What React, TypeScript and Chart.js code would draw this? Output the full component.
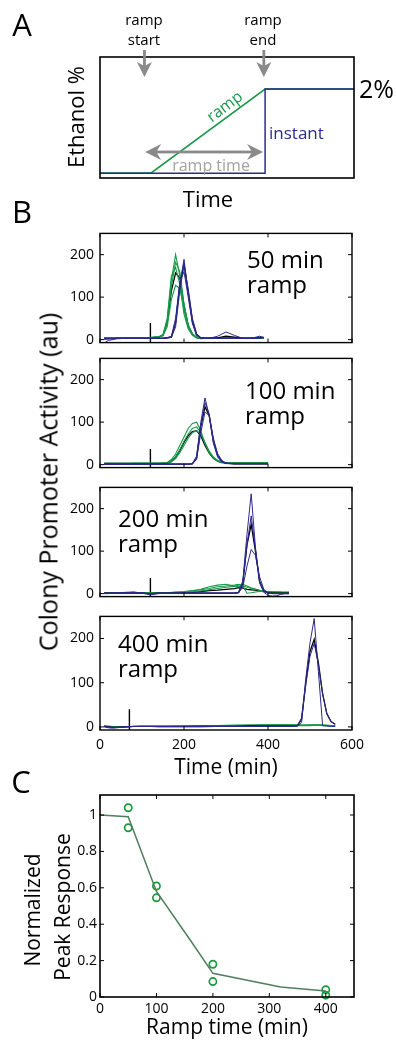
import React, { useEffect, useRef } from "react";
import { Chart, registerables } from "chart.js";

Chart.register(...registerables);

const FONT = "'Open Sans', 'Noto Sans', 'DejaVu Sans', sans-serif";
const BLUE = "#2d2a8e";
const GREEN = "#17994a";
const BLACK = "#000000";
const ARROW_GRAY = "#8a8a8a";

// ---------- Panel A (schematic) ----------
const schemTime = [0, 20, 65, 100];
const rampLevel = [0.04, 0.04, 0.735, 0.735];
const instantTime = [0, 65, 65, 100];
const instantLevel = [0.04, 0.04, 0.735, 0.735];

// ---------- Panel B ----------
const xTicksB = [0, 200, 400, 600];
const yTicksB = [0, 100, 200];
const markerTimes = [120, 120, 120, 70];
const markerTops = [39, 37, 37, 40];

// 50 min ramp
const t50 = [10, 20, 40, 60, 80, 100, 120, 140, 150, 160, 170, 180, 190, 200, 210, 220, 230, 240, 250, 260, 280, 300, 320, 340, 360, 380, 390];
const g50a = [4, 4, 4, 4, 4, 4, 5, 7, 12, 45, 140, 200, 150, 70, 30, 12, 5, 4, 4, 4, 4, 4, 4, 4, 4, 4, 4];
const g50b = [4, 4, 4, 4, 4, 4, 5, 6, 10, 40, 125, 182, 160, 85, 35, 14, 5, 3, 3, 4, 4, 4, 4, 4, 4, 4, 4];
const g50c = [3, 3, 3, 4, 4, 4, 4, 6, 9, 30, 95, 128, 120, 75, 32, 12, 4, 2, 3, 4, 4, 4, 4, 4, 4, 4, 4];
const g50d = [4, 4, 4, 4, 4, 4, 5, 7, 11, 50, 150, 170, 130, 60, 25, 10, 4, 3, 3, 4, 4, 4, 4, 4, 4, 4, 4];
const k50a = [4, 4, 4, 4, 4, 4, 4, 6, 10, 40, 115, 157, 145, 80, 34, 13, 5, 3, 3, 4, 4, 4, 4, 4, 4, 4, 4];
const b50a = [-8, -2, 2, 3, 3, 3, 3, 3, 3, 4, 6, 40, 130, 189, 110, 40, 10, 4, 3, 3, 8, 18, 10, 3, 3, 8, 5];
const b50b = [3, 3, 3, 3, 3, 3, 3, 3, 3, 4, 5, 30, 115, 176, 120, 50, 14, 5, 3, 3, 3, 4, 4, 3, 3, 4, 5];
const b50c = [3, 3, 3, 3, 3, 3, 3, 3, 4, 5, 8, 50, 135, 160, 100, 38, 10, 4, 3, 3, 3, 3, 3, 3, 3, 4, 5];
const k50b = [1, 2, 3, 3, 3, 3, 3, 3, 3, 4, 6, 40, 128, 178, 112, 44, 12, 4, 3, 3, 4, 8, 6, 3, 3, 5, 5];

// 100 min ramp
const t100 = [10, 20, 40, 60, 80, 100, 120, 140, 160, 170, 180, 190, 200, 210, 220, 230, 240, 250, 260, 270, 280, 290, 300, 320, 340, 360, 380, 400];
const g100a = [3, 3, 3, 3, 3, 3, 3, 3, 5, 12, 25, 45, 65, 85, 97, 100, 80, 50, 28, 15, 8, 5, 4, 4, 4, 4, 4, 4];
const g100b = [3, 3, 3, 3, 3, 3, 3, 3, 4, 8, 18, 35, 55, 72, 85, 89, 75, 50, 30, 17, 10, 6, 4, 4, 4, 4, 4, 4];
const g100c = [2, 2, 2, 2, 3, 3, 3, 3, 3, 6, 14, 28, 45, 62, 75, 80, 72, 52, 32, 18, 10, 6, 4, 4, 4, 4, 4, 4];
const k100a = [3, 3, 3, 3, 3, 3, 3, 3, 4, 8, 18, 33, 52, 68, 78, 80, 68, 45, 27, 15, 8, 5, 4, 4, 4, 4, 4, 4];
const b100a = [1, 1, 1, 1, 1, 1, 1, 1, 1, 1, 1, 1, 1, 1, 3, 20, 100, 157, 115, 50, 18, 6, 3, 2, 2, 2, 2, 2];
const b100b = [1, 1, 1, 1, 1, 1, 1, 1, 1, 1, 1, 1, 1, 1, 2, 15, 90, 146, 120, 55, 22, 8, 3, 2, 2, 2, 2, 2];
const b100c = [1, 1, 1, 1, 1, 1, 1, 1, 1, 1, 1, 1, 1, 1, 2, 12, 75, 124, 115, 62, 26, 10, 4, 2, 2, 2, 2, 2];
const k100b = [1, 1, 1, 1, 1, 1, 1, 1, 1, 1, 1, 1, 1, 1, 2, 16, 90, 136, 115, 55, 22, 8, 3, 2, 2, 2, 2, 2];

// 200 min ramp
const t200 = [10, 20, 40, 60, 80, 100, 120, 140, 160, 180, 200, 220, 240, 260, 280, 300, 320, 330, 340, 350, 360, 370, 380, 390, 400, 410, 420, 430, 440, 450];
const g200a = [2, 2, 2, 2, 2, 2, 2, 2, 2, 4, 5, 7, 9, 12, 16, 18, 20, 22, 18, 1, 2, 4, 5, 5, 4, 4, 3, 3, 3, 3];
const g200b = [1, 1, 1, 1, 1, 1, 1, 1, 2, 3, 3, 6, 10, 16, 20, 22, 18, 16, 18, 15, 12, 10, 8, 6, 5, 4, 4, 3, 3, 3];
const g200c = [1, 1, 1, 1, 1, 1, 1, 1, 1, 2, 3, 4, 6, 9, 12, 15, 17, 20, 22, 18, 14, 11, 8, 6, 4, 4, 3, 3, 3, 3];
const k200a = [1, 1, 1, 1, 1, 1, 1, 1, 1, 2, 2, 3, 5, 7, 8, 10, 12, 14, 13, 10, 9, 8, 6, 5, 4, 3, 3, 3, 2, 2];
const b200a = [0, 0, 2, 3, 4, 1, -3, 0, 1, 1, 1, 1, 1, 1, 1, 1, 1, 2, 30, 140, 235, 110, 25, 3, -4, -6, -5, -2, 0, 0];
const b200b = [1, 1, 1, 2, 3, 2, -1, 1, 1, 1, 1, 1, 1, 1, 1, 1, 1, 2, 25, 115, 183, 105, 30, 6, 1, 0, 0, 0, 0, 0];
const b200c = [1, 1, 1, 1, 2, 1, 0, 1, 1, 1, 1, 1, 1, 1, 1, 1, 1, 2, 15, 65, 104, 90, 40, 10, 2, 0, 0, 0, 0, 0];
const k200b = [1, 1, 1, 2, 2, 1, 0, 1, 1, 1, 1, 1, 1, 1, 1, 1, 1, 3, 25, 115, 163, 100, 28, 6, 2, 1, 1, 1, 1, 1];

// 400 min ramp
const t400 = [10, 20, 30, 40, 60, 80, 100, 120, 140, 160, 200, 240, 280, 320, 360, 400, 440, 460, 470, 480, 490, 500, 510, 520, 530, 540, 550, 560];
const g400a = [2, 1, 0, 0, 1, 1, 1, 1, 1, 1, 2, 2, 3, 3, 4, 5, 5, 5, 4, 4, 4, 5, 5, 5, 4, 4, 3, 3];
const g400b = [3, 2, 1, 1, 1, 1, 1, 2, 2, 2, 2, 3, 3, 4, 4, 4, 5, 4, 4, 4, 4, 4, 4, 4, 4, 3, 3, 3];
const g400c = [1, 0, -1, 0, 0, 1, 1, 1, 1, 1, 1, 2, 2, 3, 3, 4, 4, 4, 3, 3, 3, 3, 4, 4, 3, 3, 2, 2];
const b400a = [0, -2, -3, -2, 0, 1, 2, 1, 0, 0, 0, 0, 1, 1, 1, 2, 2, 2, 2, 10, 110, 190, 245, 125, 3, 2, 1, 1];
const b400b = [1, 0, -1, -1, 0, 1, 1, 1, 1, 1, 1, 1, 1, 1, 1, 2, 2, 2, 2, 20, 95, 160, 189, 140, 75, 30, 12, 6];
const k400 = [1, 0, -1, -1, 0, 1, 1, 1, 1, 1, 1, 1, 1, 1, 2, 2, 2, 2, 3, 18, 100, 170, 198, 145, 75, 30, 12, 6];

// ---------- Panel C ----------
const rampTimes = [50, 50, 100, 100, 200, 200, 400, 400];
const peakResponse = [1.04, 0.93, 0.61, 0.545, 0.18, 0.085, 0.04, 0.01];
const modelTimes = [0, 50, 100, 165, 200, 320, 400];
const modelResponse = [1.0, 0.99, 0.58, 0.29, 0.13, 0.055, 0.033];
const xTicksC = [0, 100, 200, 300, 400];
const yTicksC = [0, 0.2, 0.4, 0.6, 0.8, 1];

// ---------- plugins ----------
const boxPlugin = (withTicks: boolean, lw = 1.4) => ({
  id: "box",
  afterDatasetsDraw(chart: any) {
    const { ctx, chartArea: a, scales } = chart;
    ctx.save();
    ctx.strokeStyle = "#000";
    if (withTicks) {
      const L = 4;
      ctx.lineWidth = 1;
      ctx.beginPath();
      for (const t of scales.x.ticks) {
        const p = scales.x.getPixelForValue(t.value);
        ctx.moveTo(p, a.bottom);
        ctx.lineTo(p, a.bottom - L);
        ctx.moveTo(p, a.top);
        ctx.lineTo(p, a.top + L);
      }
      for (const t of scales.y.ticks) {
        const p = scales.y.getPixelForValue(t.value);
        ctx.moveTo(a.left, p);
        ctx.lineTo(a.left + L, p);
        ctx.moveTo(a.right, p);
        ctx.lineTo(a.right - L, p);
      }
      ctx.stroke();
    }
    ctx.lineWidth = lw;
    ctx.strokeRect(a.left, a.top, a.right - a.left, a.bottom - a.top);
    ctx.restore();
  },
});

type TextItem = {
  text: string;
  dx: number;
  dy: number;
  size: number;
  color?: string;
  align?: CanvasTextAlign;
  baseline?: CanvasTextBaseline;
  rotate?: number;
};

const textPlugin = (items: TextItem[]) => ({
  id: "texts",
  afterDraw(chart: any) {
    const { ctx, chartArea: a } = chart;
    for (const it of items) {
      ctx.save();
      ctx.translate(a.left + it.dx, a.top + it.dy);
      if (it.rotate) ctx.rotate((it.rotate * Math.PI) / 180);
      ctx.font = `${it.size}px ${FONT}`;
      ctx.fillStyle = it.color || "#000";
      ctx.textAlign = it.align || "left";
      ctx.textBaseline = it.baseline || "alphabetic";
      ctx.fillText(it.text, 0, 0);
      ctx.restore();
    }
  },
});

const arrowsA = { downAt: [17.5, 64.5], spanFrom: 17.8, spanTo: 64.2, spanLevel: 0.215 };

const arrowPlugin = {
  id: "arrows",
  afterDraw(chart: any) {
    const { ctx, chartArea: a, scales } = chart;
    ctx.save();
    ctx.fillStyle = ARROW_GRAY;
    for (const v of arrowsA.downAt) {
      const px = scales.x.getPixelForValue(v);
      ctx.fillRect(px - 1.4, a.top - 7, 2.8, 16);
      ctx.beginPath();
      ctx.moveTo(px, a.top + 20);
      ctx.lineTo(px - 7.5, a.top + 5);
      ctx.lineTo(px, a.top + 9);
      ctx.lineTo(px + 7.5, a.top + 5);
      ctx.closePath();
      ctx.fill();
    }
    const x1 = scales.x.getPixelForValue(arrowsA.spanFrom);
    const x2 = scales.x.getPixelForValue(arrowsA.spanTo);
    const py = scales.y.getPixelForValue(arrowsA.spanLevel);
    ctx.fillRect(x1 + 8, py - 1.4, x2 - x1 - 16, 2.8);
    ctx.beginPath();
    ctx.moveTo(x1, py);
    ctx.lineTo(x1 + 16, py - 8);
    ctx.lineTo(x1 + 11, py);
    ctx.lineTo(x1 + 16, py + 8);
    ctx.closePath();
    ctx.fill();
    ctx.beginPath();
    ctx.moveTo(x2, py);
    ctx.lineTo(x2 - 16, py - 8);
    ctx.lineTo(x2 - 11, py);
    ctx.lineTo(x2 - 16, py + 8);
    ctx.closePath();
    ctx.fill();
    ctx.restore();
  },
};

// ---------- helpers ----------
const pts = (xs: number[], ys: number[]) => xs.map((x, i) => ({ x, y: ys[i] }));

const lineDs = (xs: number[], ys: number[], color: string, width: number) => ({
  type: "line",
  data: pts(xs, ys),
  borderColor: color,
  borderWidth: width,
  pointRadius: 0,
  tension: 0,
  fill: false,
});

const fixedTicks = (vals: number[]) => (s: any) => {
  s.ticks = vals.map((value) => ({ value }));
};

const tickFont = { family: FONT, size: 14 };

const Y_MIN_B = -7;
const Y_MAX_B = 250;

type BPlot = {
  t: number[];
  blue: number[][];
  blueMean: number[];
  green: number[][];
  greenMean: number[] | null;
  marker: number;
  markerTop: number;
  label: string[];
  labelDx: number;
  labelDy: number;
  showX: boolean;
};

const bPlots: BPlot[] = [
  { t: t50, blue: [b50a, b50b, b50c], blueMean: k50b, green: [g50a, g50b, g50c, g50d], greenMean: k50a, marker: markerTimes[0], markerTop: markerTops[0], label: ["50 min", "ramp"], labelDx: 147, labelDy: 35, showX: false },
  { t: t100, blue: [b100a, b100b, b100c], blueMean: k100b, green: [g100a, g100b, g100c], greenMean: k100a, marker: markerTimes[1], markerTop: markerTops[1], label: ["100 min", "ramp"], labelDx: 145, labelDy: 41, showX: false },
  { t: t200, blue: [b200a, b200b, b200c], blueMean: k200b, green: [g200a, g200b, g200c], greenMean: k200a, marker: markerTimes[2], markerTop: markerTops[2], label: ["200 min", "ramp"], labelDx: 18, labelDy: 40, showX: false },
  { t: t400, blue: [b400a, b400b], blueMean: k400, green: [g400a, g400b, g400c], greenMean: null, marker: markerTimes[3], markerTop: markerTops[3], label: ["400 min", "ramp"], labelDx: 18, labelDy: 36, showX: true },
];

const bTops = [219, 344, 473, 602];

function makeBConfig(p: BPlot): any {
  const datasets: any[] = [
    ...p.blue.map((v) => lineDs(p.t, v, BLUE, 1)),
    lineDs(p.t, p.blueMean, BLACK, 1.3),
    ...p.green.map((v) => lineDs(p.t, v, GREEN, 1.1)),
    ...(p.greenMean ? [lineDs(p.t, p.greenMean, BLACK, 1.3)] : []),
    lineDs([p.marker, p.marker], [Y_MIN_B, p.markerTop], BLACK, 1.4),
  ];
  const items: TextItem[] = [
    { text: p.label[0], dx: p.labelDx, dy: p.labelDy, size: 24 },
    { text: p.label[1], dx: p.labelDx, dy: p.labelDy + 25, size: 24 },
  ];
  return {
    type: "line",
    data: { datasets },
    options: {
      animation: false,
      responsive: false,
      devicePixelRatio: 1,
      events: [],
      layout: { padding: { top: 10, bottom: p.showX ? 0 : 10, left: 0, right: 44 } },
      plugins: { legend: { display: false }, tooltip: { enabled: false } },
      scales: {
        x: {
          type: "linear",
          min: 0,
          max: 600,
          afterBuildTicks: fixedTicks(xTicksB),
          grid: { display: false, drawTicks: false },
          border: { display: false },
          ticks: { display: p.showX, font: tickFont, color: "#000", padding: 7, maxRotation: 0, autoSkip: false },
          title: p.showX
            ? { display: true, text: "Time (min)", font: { family: FONT, size: 21 }, color: "#000", padding: { top: 0, bottom: 1 } }
            : { display: false },
          afterFit: (s: any) => {
            s.height = p.showX ? 52 : 0;
          },
        },
        y: {
          type: "linear",
          min: Y_MIN_B,
          max: Y_MAX_B,
          afterBuildTicks: fixedTicks(yTicksB),
          grid: { display: false, drawTicks: false },
          border: { display: false },
          ticks: { font: tickFont, color: "#000", padding: 6, autoSkip: false },
          afterFit: (s: any) => {
            s.width = 100;
          },
        },
      },
    },
    plugins: [boxPlugin(true), textPlugin(items)],
  };
}

function makeAConfig(): any {
  const items: TextItem[] = [
    { text: "ramp", dx: 44, dy: -32, size: 15, align: "center" },
    { text: "start", dx: 44, dy: -12, size: 15, align: "center" },
    { text: "ramp", dx: 163, dy: -32, size: 15, align: "center" },
    { text: "end", dx: 163, dy: -12, size: 15, align: "center" },
    { text: "2%", dx: 259, dy: 41, size: 25 },
    { text: "instant", dx: 169, dy: 82, size: 17, color: BLUE },
    { text: "ramp time", dx: 111, dy: 114, size: 16, color: "#a3a3a3", align: "center" },
    { text: "ramp", dx: 125, dy: 50, size: 16, color: GREEN, align: "center", baseline: "middle", rotate: -37 },
    { text: "Ethanol %", dx: -22, dy: 60, size: 22, align: "center", baseline: "middle", rotate: -90 },
    { text: "Time", dx: 108, dy: 150, size: 22, align: "center" },
  ];
  return {
    type: "line",
    data: {
      datasets: [lineDs(instantTime, instantLevel, BLUE, 1.5), lineDs(schemTime, rampLevel, GREEN, 1.6)],
    },
    options: {
      animation: false,
      responsive: false,
      devicePixelRatio: 1,
      events: [],
      layout: { padding: { top: 57, bottom: 0, left: 0, right: 42 } },
      plugins: { legend: { display: false }, tooltip: { enabled: false } },
      scales: {
        x: {
          type: "linear",
          min: 0,
          max: 100,
          grid: { display: false, drawTicks: false },
          border: { display: false },
          ticks: { display: false },
          afterFit: (s: any) => {
            s.height = 34;
          },
        },
        y: {
          type: "linear",
          min: 0,
          max: 1,
          grid: { display: false, drawTicks: false },
          border: { display: false },
          ticks: { display: false },
          afterFit: (s: any) => {
            s.width = 100;
          },
        },
      },
    },
    plugins: [boxPlugin(false, 1.6), arrowPlugin, textPlugin(items)],
  };
}

function makeCConfig(): any {
  return {
    type: "line",
    data: {
      datasets: [
        lineDs(modelTimes, modelResponse, "#4f7f5c", 1.5),
        {
          type: "scatter",
          data: pts(rampTimes, peakResponse),
          showLine: false,
          pointRadius: 3.6,
          pointBorderWidth: 1.7,
          pointBorderColor: "#1a9a3c",
          pointBackgroundColor: "rgba(255,255,255,0)",
          clip: false,
        },
      ],
    },
    options: {
      animation: false,
      responsive: false,
      devicePixelRatio: 1,
      events: [],
      layout: { padding: { top: 15, bottom: 0, left: 0, right: 42 } },
      plugins: { legend: { display: false }, tooltip: { enabled: false } },
      scales: {
        x: {
          type: "linear",
          min: 0,
          max: 450,
          afterBuildTicks: fixedTicks(xTicksC),
          grid: { display: false, drawTicks: false },
          border: { display: false },
          ticks: { font: tickFont, color: "#000", padding: 4, maxRotation: 0, autoSkip: false },
          title: { display: true, text: "Ramp time (min)", font: { family: FONT, size: 21 }, color: "#000", padding: { top: 0, bottom: 0 } },
          afterFit: (s: any) => {
            s.height = 44;
          },
        },
        y: {
          type: "linear",
          min: 0,
          max: 1.11,
          afterBuildTicks: fixedTicks(yTicksC),
          grid: { display: false, drawTicks: false },
          border: { display: false },
          ticks: {
            font: tickFont,
            color: "#000",
            padding: 3,
            autoSkip: false,
            callback: (v: any) => (v === 0 ? "0" : v === 1 ? "1" : Number(v).toFixed(1)),
          },
          afterFit: (s: any) => {
            s.width = 100;
          },
        },
      },
    },
    plugins: [boxPlugin(true, 1.6)],
  };
}

function ChartCanvas({ top, height, make }: { top: number; height: number; make: () => any }) {
  const ref = useRef<HTMLCanvasElement | null>(null);
  useEffect(() => {
    if (!ref.current) return;
    const chart = new Chart(ref.current, make());
    return () => chart.destroy();
  }, []);
  return (
    <canvas
      ref={ref}
      width={396}
      height={height}
      style={{ position: "absolute", left: 0, top, width: 396, height, display: "block" }}
    />
  );
}

function Label({ text, cx, cy, size, rotate = 0 }: { text: string; cx: number; cy: number; size: number; rotate?: number }) {
  return (
    <div
      style={{
        position: "absolute",
        left: cx,
        top: cy,
        transform: `translate(-50%, -50%) rotate(${rotate}deg)`,
        fontFamily: FONT,
        fontSize: size,
        lineHeight: 1,
        whiteSpace: "nowrap",
        color: "#000",
      }}
    >
      {text}
    </div>
  );
}

export default function App() {
  return (
    <div style={{ position: "absolute", left: 0, top: 0, width: 396, height: 1041, background: "#fff", overflow: "hidden" }}>
      <ChartCanvas top={0} height={212} make={makeAConfig} />
      {bPlots.map((p, i) => (
        <ChartCanvas key={i} top={bTops[i]} height={p.showX ? 180 : 138} make={() => makeBConfig(p)} />
      ))}
      <ChartCanvas top={780} height={261} make={makeCConfig} />
      <Label text="A" cx={22} cy={24} size={31} />
      <Label text="B" cx={22} cy={211} size={31} />
      <Label text="C" cx={21} cy={781} size={31} />
      <Label text="Colony Promoter Activity (au)" cx={48} cy={482} size={25} rotate={-90} />
      <Label text="Normalized" cx={32} cy={910} size={21} rotate={-90} />
      <Label text="Peak Response" cx={62} cy={907} size={21} rotate={-90} />
    </div>
  );
}
